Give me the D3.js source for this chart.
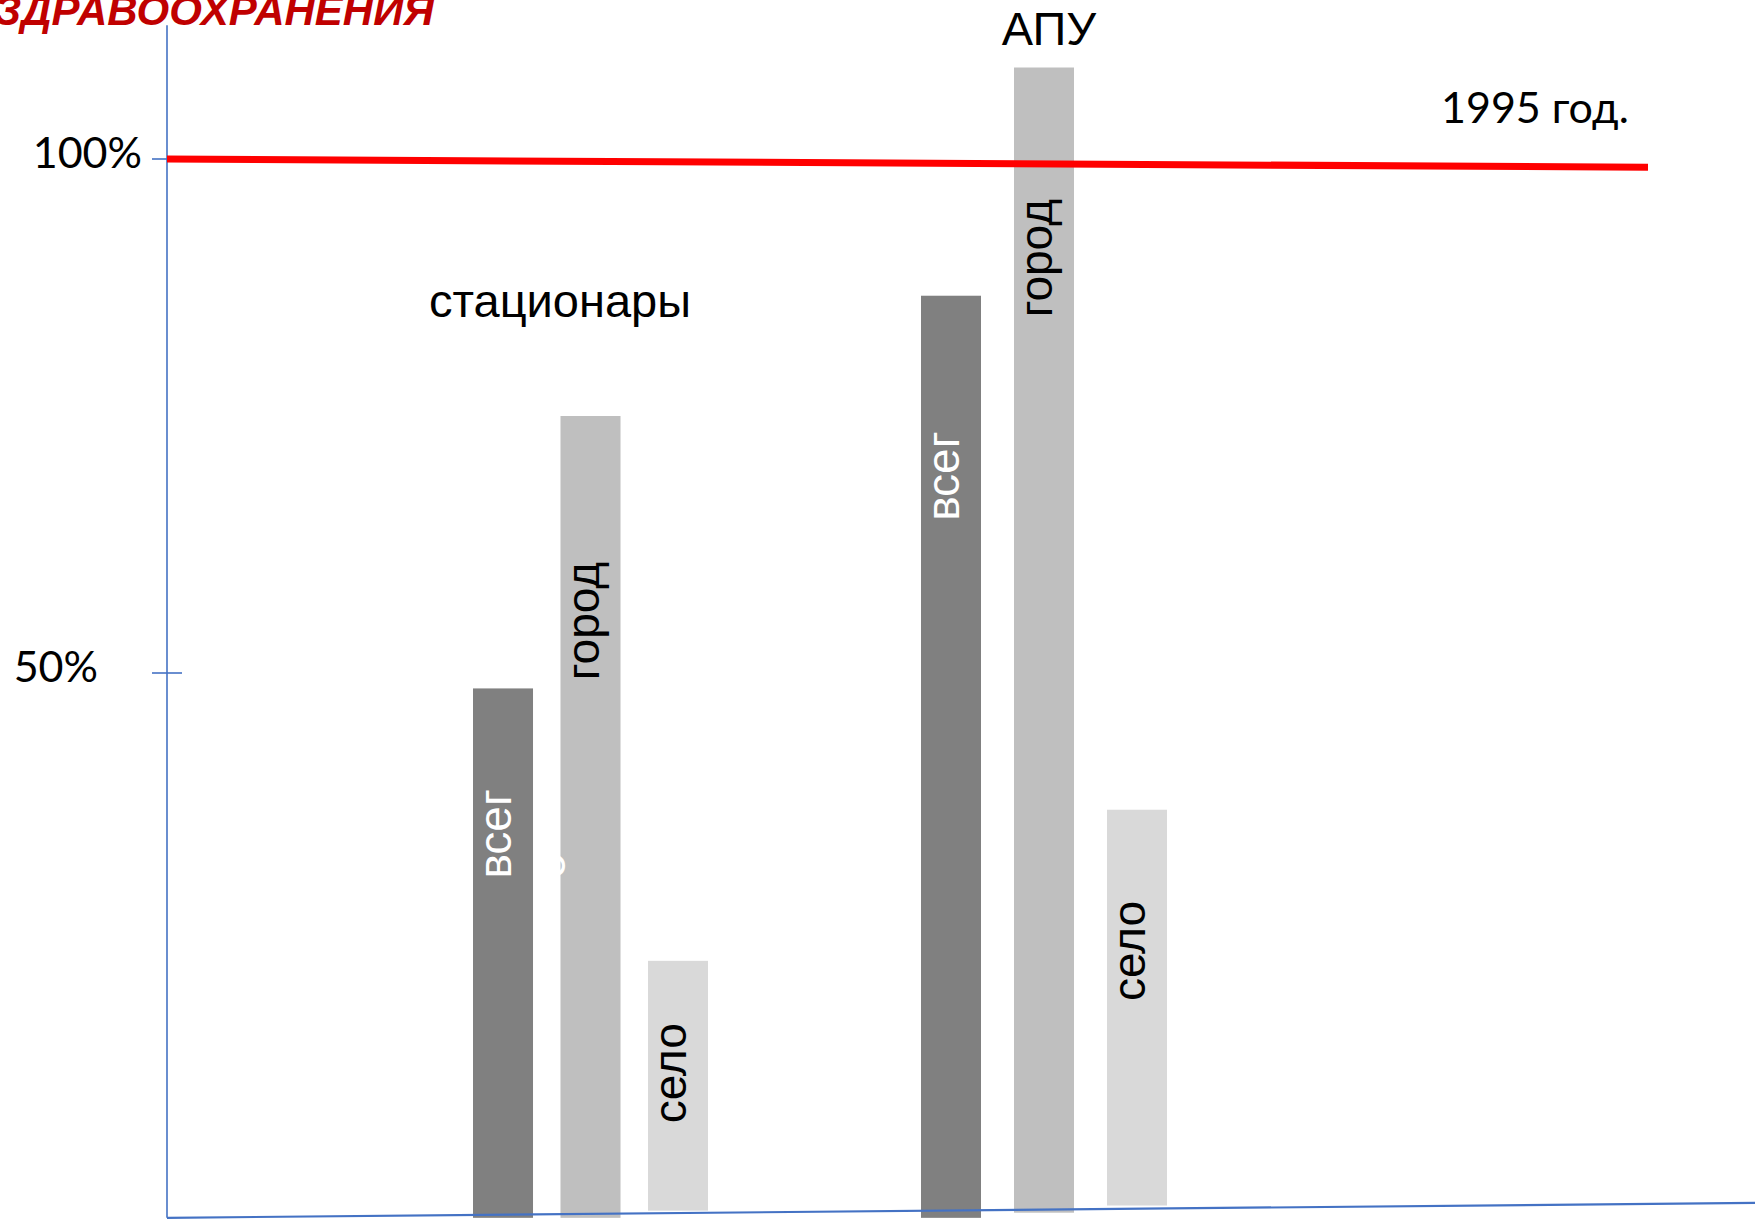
<!DOCTYPE html>
<html>
<head>
<meta charset="utf-8">
<script src="https://cdn.jsdelivr.net/npm/d3@7/dist/d3.min.js"></script>
<style>
  html, body { margin: 0; padding: 0; background: #ffffff; }
  svg { display: block; }
</style>
</head>
<body>
<script>
// Facility groups and series
const groups = ["стационары", "АПУ"];
const series = ["всего", "город", "село"];

// Level relative to 1995 (1995 = 100%), per group and series
const values = [
  [48.5, 75.0, 22.0],   // стационары
  [86.7, 108.9, 36.7]   // АПУ
];
// Bar foot levels (bars hang slightly below the zero line)
const floors = [
  [-3.0, -3.0, -2.3],
  [-3.0, -2.5, -1.8]
];

// Value labels written along the bars
const barLabels = [
  ["всег|о", "город", "село"],
  ["всег|о", "город", "село"]
];

// Y ticks and their labels
const tickValues = [100, 50];
const tickLabels = ["100%", "50%"];

// Reference line: 1995 level, drawn from left to right end
const refLevels = [100, 99.2];
const refLabel = "1995 год.";

const W = 1758, H = 1225;
const svg = d3.select("body").append("svg")
  .attr("width", W).attr("height", H);

const blue = "#4472C4";
const colors = d3.scaleOrdinal().domain(series).range(["#808080", "#BFBFBF", "#D9D9D9"]);

// Scales
const y = d3.scaleLinear().domain([0, 100]).range([1187, 159]);
const x0 = d3.scaleBand().domain(groups).range([473, 1161]).paddingInner(0.4643).paddingOuter(0);
// each group spreads its three bars a little differently
const groupSpread = [235, 246];
const innerPad = [0.314, 0.355];
const x1For = gi => d3.scaleBand().domain(series)
  .range([0, groupSpread[gi]]).paddingInner(innerPad[gi]).paddingOuter(0);

const axisX = 167;

// Heading fragment at the top-left
svg.append("text")
  .attr("x", 434).attr("y", 25)
  .attr("text-anchor", "end")
  .attr("font-family", "'Liberation Sans', Arial, sans-serif")
  .attr("font-size", 42)
  .attr("font-weight", "bold")
  .attr("font-style", "italic")
  .attr("fill", "#C00000")
  .text("ЗДРАВООХРАНЕНИЯ");

// Bars
const gGroups = svg.append("g").selectAll("g")
  .data(groups)
  .join("g")
  .attr("transform", d => `translate(${x0(d)},0)`);

gGroups.each(function (g, gi) {
  const x1 = x1For(gi);
  d3.select(this).selectAll("rect")
    .data(series.map((s, si) => ({ s, v: values[gi][si], f: floors[gi][si] })))
    .join("rect")
    .attr("x", d => x1(d.s))
    .attr("width", x1.bandwidth())
    .attr("y", d => y(d.v))
    .attr("height", d => y(d.f) - y(d.v))
    .attr("fill", d => colors(d.s));
});

// Where each bar label starts (value level of the text start, reading upward)
const labelStart = [
  [30.0, 49.3, 6.2],
  [64.8, 84.6, 18.1]
];
const labelFill = { "всего": "#ffffff", "город": "#000000", "село": "#000000" };

gGroups.each(function (g, gi) {
  const grp = d3.select(this);
  const x1 = x1For(gi);
  series.forEach((s, si) => {
    const bx = x1(s) + x1.bandwidth() / 2 + 8;
    const parts = barLabels[gi][si].split("|");
    const t = grp.append("text")
      .attr("transform", `translate(${bx},${y(labelStart[gi][si])}) rotate(-90)`)
      .attr("text-anchor", "start")
      .attr("font-family", "'Liberation Sans', Arial, sans-serif")
      .attr("font-size", 46)
      .attr("fill", labelFill[s]);
    parts.forEach((p, pi) => {
      t.append("tspan").attr("x", 0).attr("dy", pi === 0 ? 0 : 54).text(p);
    });
  });
});

// Group captions
svg.append("text")
  .attr("x", 560).attr("y", 317)
  .attr("text-anchor", "middle")
  .attr("font-family", "'Liberation Sans', Arial, sans-serif")
  .attr("font-size", 47)
  .attr("fill", "#000")
  .text(groups[0]);

svg.append("text")
  .attr("x", 1049).attr("y", 45)
  .attr("text-anchor", "middle")
  .attr("font-family", "'Liberation Sans', Arial, sans-serif")
  .attr("font-size", 47)
  .attr("fill", "#000")
  .text(groups[1]);

// Y axis line
svg.append("line")
  .attr("x1", axisX).attr("x2", axisX)
  .attr("y1", y(113)).attr("y2", y(-3.0))
  .attr("stroke", blue).attr("stroke-width", 1.6);

// Ticks
const tickExtent = [[-15, 0], [-15, 15]];
const tickLabelRight = [142, 98];
tickValues.forEach((v, i) => {
  svg.append("line")
    .attr("x1", axisX + tickExtent[i][0]).attr("x2", axisX + tickExtent[i][1])
    .attr("y1", y(v)).attr("y2", y(v))
    .attr("stroke", blue).attr("stroke-width", 1.6);
  svg.append("text")
    .attr("x", tickLabelRight[i]).attr("y", y(v) + 9)
    .attr("text-anchor", "end")
    .attr("font-family", "Lato, 'Open Sans', sans-serif")
    .attr("font-size", 43)
    .attr("fill", "#000")
    .text(tickLabels[i]);
});

// Baseline (slightly tilted)
svg.append("line")
  .attr("x1", axisX).attr("y1", y(-3.0))
  .attr("x2", 1755).attr("y2", y(-1.55))
  .attr("stroke", blue).attr("stroke-width", 2.2);

// 1995 reference line
svg.append("line")
  .attr("x1", axisX).attr("y1", y(refLevels[0]))
  .attr("x2", 1648).attr("y2", y(refLevels[1]))
  .attr("stroke", "#FF0000").attr("stroke-width", 7);

svg.append("text")
  .attr("x", 1441).attr("y", 123)
  .attr("font-family", "Lato, 'Open Sans', sans-serif")
  .attr("font-size", 43)
  .attr("fill", "#000")
  .text(refLabel);
</script>
</body>
</html>
